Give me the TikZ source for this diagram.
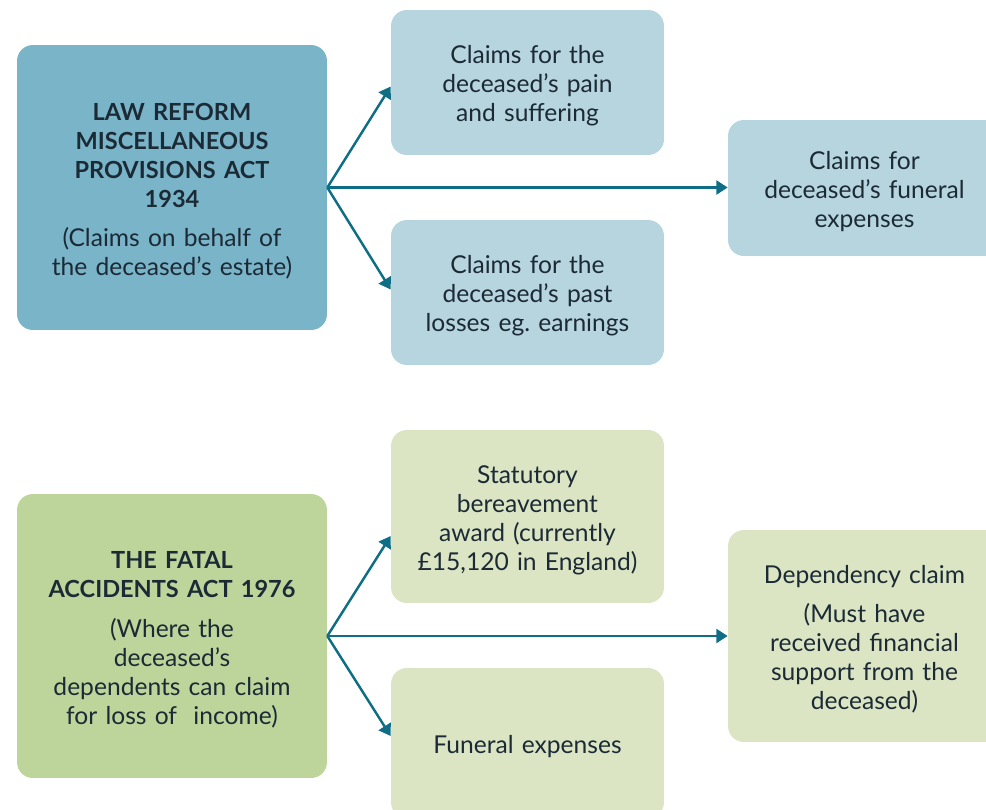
\documentclass[tikz,border=0pt]{standalone}
\usepackage{fontspec}
\setmainfont{Lato}
\usepackage{xcolor}
\usepackage{tikz}
\usetikzlibrary{arrows.meta, positioning, calc}
\definecolor{estate}{HTML}{7AB4C8}
\definecolor{estatelight}{HTML}{B7D5DF}
\definecolor{fatal}{HTML}{BDD59B}
\definecolor{fatallight}{HTML}{DBE5C4}
\definecolor{link}{HTML}{0F6E86}
\definecolor{ink}{HTML}{1B2A35}
\newcommand{\acthead}[1]{{\fontsize{13.4}{16.5}\selectfont\bfseries #1}}

\begin{document}
\begin{tikzpicture}[
  x=0.02cm, y=-0.02cm,
  act/.style={rectangle, rounded corners=9pt, inner sep=0pt, minimum width=6.2cm, minimum height=5.7cm, text width=5.8cm, align=center, text=ink, font=\fontsize{14}{16.5}\selectfont, execute at begin node={\rule{0pt}{14pt}}},
  claim/.style={rectangle, rounded corners=9pt, inner sep=0pt, minimum width=5.46cm, text width=5.2cm, align=center, text=ink, font=\fontsize{14}{16.5}\selectfont, execute at begin node={\rule{0pt}{14pt}}},
  arrow/.style={-{Triangle[length=6.5pt,width=8pt]}, line width=1.4pt, draw=link},
]

  % page area, boxes on the right run off the edge
  \useasboundingbox (0,0) rectangle (986,809);
  \clip (0,0) rectangle (986,809);

  % Law Reform (Miscellaneous Provisions) Act
  \node[act, fill=estate] (lawreform) at (172,187.5) {\acthead{LAW REFORM\\MISCELLANEOUS\\PROVISIONS ACT\\1934}\\[6pt](Claims on behalf of\\the deceased’s estate)};
  \node[claim, fill=estatelight, minimum height=2.9cm] (pain) at (527.5,82.5) {Claims for the\\deceased’s pain\\and suffering};
  \node[claim, fill=estatelight, minimum height=2.9cm] (losses) at (527.5,292.5) {Claims for the\\deceased’s past\\losses eg.\ earnings};
  \node[claim, fill=estatelight, minimum height=2.72cm] (funeral) at (864.5,188) {Claims for\\deceased’s funeral\\expenses};

  % Fatal Accidents Act
  \node[act, fill=fatal, minimum height=5.68cm] (fatalact) at (172,636) {\acthead{THE FATAL\\ACCIDENTS ACT 1976}\\[6pt](Where the\\deceased’s\\dependents can claim\\for loss of~ income)};
  \node[claim, fill=fatallight, minimum height=3.46cm] (bereave) at (527.5,516.5) {Statutory\\bereavement\\award (currently\\£15,120 in England)};
  \node[claim, fill=fatallight, minimum height=3cm] (expenses) at (527.5,743) {Funeral expenses};
  \node[claim, fill=fatallight, minimum height=4.24cm] (dependency) at (864.5,636) {Dependency claim\\[6pt](Must have\\received financial\\support from the\\deceased)};

  % forks
  \coordinate (forkA) at (lawreform.east);
  \coordinate (forkB) at (fatalact.east);

  \draw[arrow] (forkA) -- ($(pain.west |- forkA)+(0,-101)$);
  \draw[arrow] (forkA) -- ($(losses.west |- forkA)+(0,102)$);
  \draw[arrow] (forkA) -- (funeral.west |- forkA);

  \draw[arrow] (forkB) -- ($(bereave.west |- forkB)+(0,-100)$);
  \draw[arrow] (forkB) -- ($(expenses.west |- forkB)+(0,100)$);
  \draw[arrow] (forkB) -- (dependency.west |- forkB);

\end{tikzpicture}
\end{document}
